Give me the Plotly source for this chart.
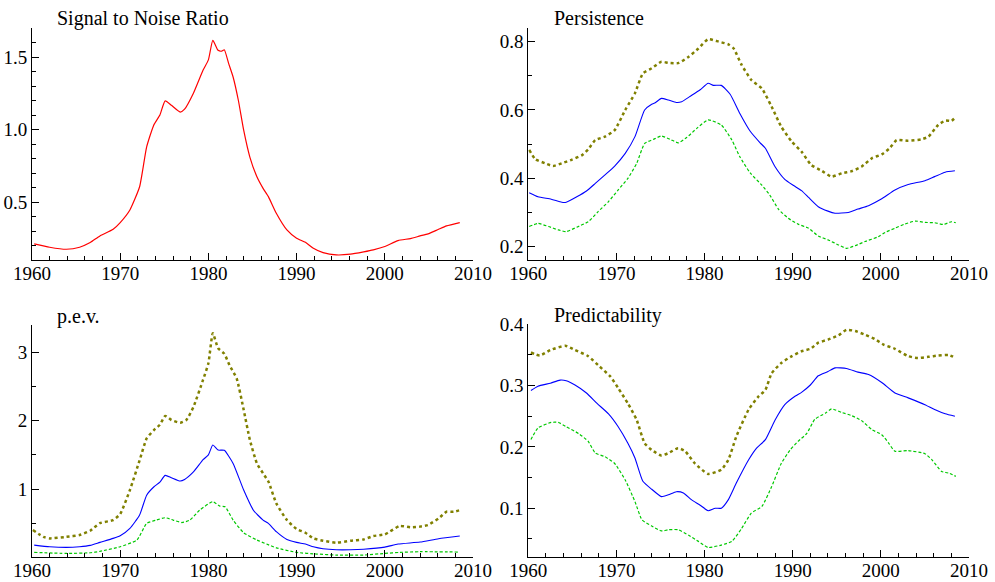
import plotly.graph_objects as go

# ---------------- data ----------------
snr_years = [1960.25, 1962.0, 1963.9, 1965.4, 1966.6, 1967.7, 1969.2, 1970.0, 1971.1, 1972.2, 1973.0, 1973.8,
             1974.5, 1975.1, 1975.8, 1976.8, 1977.3, 1978.3, 1979.4, 1980.0, 1980.5, 1981.1, 1981.5, 1981.8,
             1982.3, 1982.8, 1983.4, 1984.0, 1984.7, 1985.5, 1986.2, 1986.8, 1987.7, 1988.9, 1990.0, 1991.0,
             1991.9, 1993.0, 1994.5, 1996.1, 1997.6, 1998.7, 2000.0, 2001.5, 2002.9, 2004.0, 2004.9, 2006.1,
             2007.0, 2008.5]
snr_vals = [0.211, 0.188, 0.174, 0.188, 0.22, 0.266, 0.312, 0.358, 0.445, 0.605, 0.88, 1.03,
            1.10, 1.197, 1.167, 1.12, 1.14, 1.25, 1.41, 1.48, 1.615, 1.546, 1.54, 1.55,
            1.454, 1.362, 1.20, 0.995, 0.81, 0.674, 0.594, 0.537, 0.422, 0.307, 0.25, 0.222,
            0.181, 0.151, 0.135, 0.14, 0.156, 0.17, 0.193, 0.234, 0.248, 0.266, 0.28, 0.312,
            0.335, 0.358]

# Persistence
pers_mid_years = [1960.1, 1961.1, 1962.6, 1963.8, 1964.3, 1965.5, 1966.6, 1967.6, 1968.7, 1969.8, 1971.0, 1972.1,
                  1973.2, 1974.0, 1974.4, 1975.1, 1975.9, 1976.8, 1977.4, 1978.3, 1979.5, 1980.4, 1981.0, 1981.9,
                  1982.9, 1984.0, 1985.2, 1986.3, 1986.9, 1988.0, 1989.1, 1990.1, 1991.0, 1991.8, 1992.9, 1994.0,
                  1994.8, 1996.3, 1997.4, 1998.6, 2000.1, 2001.6, 2003.1, 2005.0, 2006.1, 2007.3, 2008.4]
pers_mid = [0.358, 0.346, 0.339, 0.33, 0.33, 0.346, 0.363, 0.385, 0.41, 0.436, 0.473, 0.522,
            0.60, 0.617, 0.621, 0.634, 0.629, 0.622, 0.624, 0.639, 0.659, 0.678, 0.672, 0.672,
            0.646, 0.59, 0.537, 0.504, 0.488, 0.434, 0.397, 0.379, 0.364, 0.344, 0.317, 0.304,
            0.298, 0.30, 0.31, 0.32, 0.34, 0.366, 0.382, 0.393, 0.405, 0.418, 0.422]
pers_up_years = [1960.1, 1960.8, 1961.9, 1962.8, 1963.8, 1964.9, 1966.1, 1966.8, 1967.6, 1968.7, 1969.8, 1971.0,
                 1972.1, 1973.0, 1974.0, 1975.1, 1975.9, 1977.0, 1978.2, 1979.3, 1980.4, 1981.6, 1982.7, 1983.3,
                 1984.2, 1985.3, 1986.5, 1987.6, 1988.7, 1989.9, 1991.0, 1992.1, 1993.3, 1994.4, 1995.6, 1996.7,
                 1997.8, 1999.0, 2000.1, 2001.0, 2001.8, 2003.1, 2004.6, 2005.4, 2006.5, 2007.3, 2008.0, 2008.5]
pers_up = [0.483, 0.456, 0.444, 0.436, 0.444, 0.454, 0.468, 0.485, 0.512, 0.522, 0.541, 0.60,
           0.649, 0.707, 0.722, 0.741, 0.738, 0.737, 0.756, 0.78, 0.807, 0.80, 0.792, 0.78,
           0.732, 0.688, 0.663, 0.61, 0.551, 0.507, 0.478, 0.439, 0.422, 0.405, 0.415, 0.421,
           0.434, 0.459, 0.47, 0.488, 0.512, 0.51, 0.514, 0.522, 0.556, 0.569, 0.568, 0.579]
pers_lo_years = [1960.1, 1961.1, 1962.3, 1963.4, 1964.3, 1965.5, 1966.8, 1967.9, 1969.1, 1970.2, 1971.3, 1972.3,
                 1973.2, 1974.2, 1975.1, 1976.1, 1977.0, 1978.0, 1979.1, 1980.4, 1981.9, 1983.1, 1984.0, 1985.2,
                 1986.5, 1987.4, 1988.4, 1989.5, 1990.6, 1991.8, 1992.9, 1994.0, 1995.2, 1996.1, 1997.1, 1998.2,
                 1999.7, 2000.5, 2001.6, 2002.7, 2003.9, 2005.0, 2006.1, 2007.1, 2008.0, 2008.5]
pers_lo = [0.259, 0.268, 0.259, 0.249, 0.244, 0.257, 0.273, 0.302, 0.332, 0.366, 0.40, 0.444,
           0.502, 0.514, 0.524, 0.514, 0.504, 0.52, 0.546, 0.571, 0.556, 0.512, 0.463, 0.415,
           0.38, 0.351, 0.309, 0.283, 0.266, 0.254, 0.231, 0.22, 0.205, 0.195, 0.203, 0.215,
           0.229, 0.242, 0.254, 0.266, 0.275, 0.271, 0.27, 0.265, 0.273, 0.27]

# p.e.v.
pev_mid_years = [1960.25, 1962.0, 1963.9, 1965.4, 1966.6, 1967.7, 1969.2, 1970.0, 1971.1, 1972.2, 1973.0, 1973.8,
                 1974.5, 1975.1, 1975.8, 1976.8, 1977.3, 1978.3, 1979.4, 1980.0, 1980.5, 1981.1, 1981.8, 1982.8,
                 1984.0, 1985.1, 1986.2, 1986.8, 1987.7, 1988.9, 1990.0, 1991.0, 1991.9, 1993.0, 1994.5, 1996.1,
                 1997.6, 2000.0, 2001.5, 2004.0, 2006.1, 2008.5]
pev_mid = [0.18, 0.156, 0.146, 0.156, 0.176, 0.22, 0.278, 0.317, 0.424, 0.62, 0.91, 1.03,
           1.10, 1.20, 1.166, 1.117, 1.14, 1.25, 1.43, 1.50, 1.644, 1.57, 1.566, 1.375,
           0.985, 0.69, 0.546, 0.497, 0.376, 0.263, 0.22, 0.195, 0.156, 0.127, 0.112, 0.112,
           0.12, 0.15, 0.195, 0.224, 0.273, 0.312]
pev_up_years = [1960.1, 1961.3, 1962.0, 1963.9, 1965.4, 1966.6, 1967.7, 1969.2, 1970.0, 1971.1, 1972.2, 1973.0,
                1973.8, 1974.5, 1975.1, 1975.8, 1976.8, 1977.5, 1978.3, 1979.4, 1980.0, 1980.5, 1981.1, 1981.8,
                1982.4, 1983.2, 1984.0, 1984.7, 1985.5, 1986.2, 1986.8, 1987.7, 1988.9, 1990.0, 1991.0, 1991.9,
                1993.0, 1994.5, 1996.1, 1997.6, 1998.7, 2000.0, 2001.7, 2002.9, 2004.0, 2004.9, 2006.1, 2007.0,
                2007.8, 2008.5]
pev_up = [0.40, 0.30, 0.278, 0.30, 0.327, 0.39, 0.50, 0.546, 0.634, 0.985, 1.42, 1.74,
          1.86, 1.94, 2.07, 2.01, 1.97, 2.01, 2.20, 2.60, 2.84, 3.28, 3.06, 2.98,
          2.81, 2.62, 2.16, 1.72, 1.375, 1.23, 1.11, 0.79, 0.546, 0.415, 0.36, 0.278,
          0.244, 0.215, 0.244, 0.263, 0.312, 0.337, 0.46, 0.44, 0.45, 0.473, 0.57, 0.668,
          0.668, 0.69]
pev_lo_years = [1960.25, 1963.9, 1966.6, 1967.7, 1970.0, 1971.9, 1973.0, 1974.1, 1975.1, 1976.0, 1977.0, 1977.9,
                1979.0, 1980.5, 1981.3, 1981.9, 1982.8, 1984.0, 1985.5, 1986.6, 1987.7, 1990.0, 1992.3, 1994.5,
                1997.6, 2000.0, 2001.7, 2004.0, 2008.5]
pev_lo = [0.073, 0.058, 0.068, 0.088, 0.156, 0.254, 0.497, 0.546, 0.58, 0.546, 0.51, 0.546,
          0.69, 0.815, 0.75, 0.74, 0.546, 0.36, 0.254, 0.195, 0.14, 0.073, 0.049, 0.034,
          0.034, 0.058, 0.073, 0.083, 0.078]

# Predictability
pred_mid_years = [1960.3, 1961.1, 1962.5, 1963.6, 1964.3, 1965.3, 1966.6, 1967.8, 1969.1, 1970.2, 1971.3, 1972.1,
                  1973.0, 1974.0, 1975.1, 1975.9, 1976.8, 1977.6, 1978.5, 1979.5, 1980.4, 1981.2, 1981.9, 1982.7,
                  1983.6, 1985.0, 1985.9, 1986.9, 1988.0, 1989.1, 1990.3, 1991.0, 1992.0, 1992.9, 1994.0, 1994.8,
                  1996.1, 1997.4, 1998.6, 2000.1, 2001.6, 2003.1, 2005.0, 2006.1, 2007.3, 2008.4]
pred_mid = [0.292, 0.299, 0.304, 0.309, 0.308, 0.301, 0.288, 0.271, 0.254, 0.233, 0.206, 0.182,
            0.144, 0.131, 0.119, 0.122, 0.127, 0.125, 0.114, 0.105, 0.096, 0.10, 0.10, 0.114,
            0.141, 0.179, 0.198, 0.212, 0.244, 0.269, 0.283, 0.289, 0.301, 0.316, 0.323, 0.329,
            0.328, 0.322, 0.318, 0.305, 0.288, 0.28, 0.269, 0.261, 0.254, 0.25]
pred_up_years = [1960.3, 1961.3, 1962.5, 1964.2, 1965.3, 1966.8, 1968.1, 1969.3, 1970.2, 1971.3, 1972.3, 1973.2,
                 1974.0, 1975.1, 1975.9, 1977.0, 1977.8, 1978.9, 1980.4, 1981.9, 1982.7, 1983.6, 1985.0, 1986.1,
                 1986.9, 1987.6, 1988.7, 1989.9, 1991.0, 1992.0, 1992.9, 1994.0, 1995.2, 1996.1, 1997.1, 1998.2,
                 1999.3, 2000.3, 2001.6, 2003.1, 2004.2, 2005.4, 2006.5, 2007.7, 2008.5]
pred_up = [0.354, 0.349, 0.358, 0.365, 0.358, 0.348, 0.331, 0.315, 0.296, 0.271, 0.244, 0.206,
           0.195, 0.186, 0.19, 0.198, 0.193, 0.173, 0.156, 0.163, 0.179, 0.217, 0.261, 0.282,
           0.293, 0.32, 0.337, 0.348, 0.356, 0.36, 0.37, 0.375, 0.382, 0.391, 0.389, 0.383,
           0.376, 0.367, 0.36, 0.348, 0.345, 0.347, 0.349, 0.35, 0.345]
pred_lo_years = [1960.3, 1961.1, 1962.6, 1963.4, 1964.3, 1965.7, 1966.8, 1967.6, 1968.7, 1969.8, 1971.0, 1972.1,
                 1972.9, 1974.0, 1975.1, 1975.9, 1977.0, 1978.2, 1979.3, 1980.4, 1981.9, 1983.1, 1984.2, 1985.3,
                 1986.5, 1987.6, 1988.7, 1989.7, 1990.6, 1991.6, 1992.5, 1993.7, 1994.4, 1995.6, 1996.7, 1997.8,
                 1999.0, 2000.1, 2000.9, 2001.6, 2003.1, 2005.0, 2005.8, 2006.9, 2007.8, 2008.5]
pred_lo = [0.212, 0.231, 0.24, 0.24, 0.233, 0.222, 0.209, 0.19, 0.184, 0.173, 0.146, 0.111,
           0.081, 0.071, 0.063, 0.065, 0.065, 0.056, 0.046, 0.036, 0.04, 0.046, 0.067, 0.092,
           0.103, 0.135, 0.173, 0.195, 0.209, 0.222, 0.245, 0.255, 0.262, 0.256, 0.251, 0.243,
           0.228, 0.22, 0.206, 0.193, 0.194, 0.189, 0.179, 0.16, 0.157, 0.152]

titles = ["Signal to Noise Ratio", "Persistence", "p.e.v.", "Predictability"]

# ---------------- figure ----------------
W, H = 995, 582
FONT = "Liberation Serif, Times New Roman, serif"
OLIVE = "#808000"
GREEN = "#00c800"
BLUE = "#0000ff"
RED = "#ff0000"

def px_x(p):
    return p / W

def px_y(p):
    return 1 - p / H

fig = go.Figure()

panels = [
    # (xaxis id, yaxis id, x px domain, y px domain (top,bottom), y range, dtick, minor dtick, title pos)
    ("x", "y", (32, 473), (28, 260), [0.1, 1.7], 0.5, 0.1, (55, 18)),
    ("x2", "y2", (528.3, 969), (28.3, 260), [0.161, 0.839], 0.2, 0.1, (552, 18)),
    ("x3", "y3", (32, 473), (325, 556.7), [0.01, 3.4], 1, 0.5, (55, 316)),
    ("x4", "y4", (528.3, 969), (324.3, 556.7), [0.021, 0.4], 0.1, 0.05, (552, 315)),
]

def add(xs, ys, panel, color, width, dash):
    xa, ya = panels[panel][0], panels[panel][1]
    fig.add_trace(go.Scatter(x=xs, y=ys, xaxis=xa, yaxis=ya, mode="lines",
                             line=dict(color=color, width=width, dash=dash, shape="spline", smoothing=0.5),
                             showlegend=False, hoverinfo="skip"))

add(snr_years, snr_vals, 0, RED, 1.2, "solid")
add(pers_up_years, pers_up, 1, OLIVE, 2.5, "dot")
add(pers_mid_years, pers_mid, 1, BLUE, 1.1, "solid")
add(pers_lo_years, pers_lo, 1, GREEN, 1.2, "3px,2px")
add(pev_up_years, pev_up, 2, OLIVE, 2.5, "dot")
add(pev_mid_years, pev_mid, 2, BLUE, 1.1, "solid")
add(pev_lo_years, pev_lo, 2, GREEN, 1.2, "3px,2px")
add(pred_up_years, pred_up, 3, OLIVE, 2.5, "dot")
add(pred_mid_years, pred_mid, 3, BLUE, 1.1, "solid")
add(pred_lo_years, pred_lo, 3, GREEN, 1.2, "3px,2px")

TICK_SIZE = 19
TITLE_SIZE = 20
layout = dict(width=W, height=H, autosize=False,
              margin=dict(l=0, r=0, t=0, b=0, pad=0, autoexpand=False),
              paper_bgcolor="white", plot_bgcolor="white",
              font=dict(family=FONT, size=TICK_SIZE, color="black"), showlegend=False)
annotations = []
for i, (xa, ya, xd, yd, yr, dt, mdt, tpos) in enumerate(panels):
    xkey = "xaxis" + ("" if i == 0 else str(i + 1))
    ykey = "yaxis" + ("" if i == 0 else str(i + 1))
    common = dict(showline=True, linecolor="black", linewidth=1, showgrid=False, zeroline=False,
                  ticks="inside", ticklen=7, tickwidth=1, tickcolor="black", automargin=False,
                  tickfont=dict(family=FONT, size=TICK_SIZE, color="black"))
    layout[xkey] = dict(common, domain=[px_x(xd[0]), px_x(xd[1])], range=[1960, 2010],
                        anchor=ya, tick0=1960, dtick=10, ticklabelstandoff=-4,
                        minor=dict(dtick=2, tick0=1960, ticks="inside", ticklen=4, tickcolor="black", showgrid=False))
    layout[ykey] = dict(common, domain=[px_y(yd[1]), px_y(yd[0])], range=yr,
                        anchor=xa, tick0=0, dtick=dt, tickformat=(".1f" if dt < 1 else "d"),
                        minor=dict(dtick=mdt, tick0=0, ticks="inside", ticklen=4, tickcolor="black", showgrid=False))
    annotations.append(dict(text=titles[i], xref="paper", yref="paper",
                            x=px_x(tpos[0]), y=px_y(tpos[1]), xanchor="left", yanchor="middle",
                            showarrow=False, font=dict(family=FONT, size=TITLE_SIZE, color="black")))
layout["annotations"] = annotations
fig.update_layout(**layout)

fig.write_html("out.html", config={"displayModeBar": False},
               post_script="document.body.style.margin='0';document.body.style.overflow='hidden';")
